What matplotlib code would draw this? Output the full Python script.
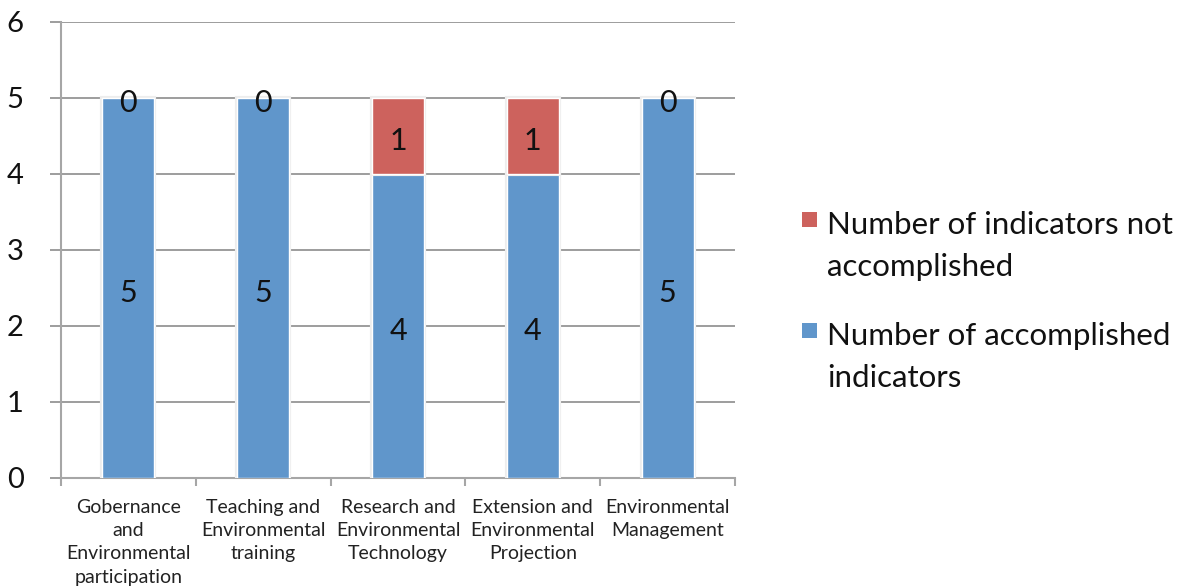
import matplotlib
matplotlib.use("Agg")
import matplotlib.pyplot as plt
import matplotlib.patheffects as pe
from matplotlib.patches import Rectangle
import numpy as np

plt.rcParams['font.family'] = ['Lato', 'DejaVu Sans']

categories = [
    "Gobernance\nand\nEnvironmental\nparticipation",
    "Teaching and\nEnvironmental\ntraining",
    "Research and\nEnvironmental\nTechnology",
    "Extension and\nEnvironmental\nProjection",
    "Environmental\nManagement",
]
accomplished = [5, 5, 4, 4, 5]
not_accomplished = [0, 0, 1, 1, 0]
series_labels = ["Number of indicators not\naccomplished",
                 "Number of accomplished\nindicators"]
y_ticks = [0, 1, 2, 3, 4, 5, 6]

blue = "#6096CB"
red = "#CD625D"
grid_col = "#8C8C8C"
axis_col = "#A6A6A6"
text_col = "#111111"

fig = plt.figure(figsize=(11.86, 5.87), dpi=100)
ax = fig.add_axes([61 / 1186, 1 - 478 / 587, (735 - 61) / 1186, (478 - 22) / 587])

x = np.arange(len(categories))
w = 0.385
glow = [pe.Stroke(linewidth=3, foreground="#EDEDED"), pe.Normal()]
b1 = ax.bar(x, accomplished, width=w, color=blue, edgecolor="white", linewidth=1.0, zorder=3)
b2 = ax.bar(x, not_accomplished, width=w, bottom=accomplished, color=red,
            edgecolor="white", linewidth=1.0, zorder=3)
for r in list(b1) + list(b2):
    if r.get_height() > 0:
        r.set_path_effects(glow)
    else:
        r.set_visible(False)

label_shift = -0.06
for rect, v in zip(b1, accomplished):
    ax.text(rect.get_x() + rect.get_width() / 2, v / 2 + label_shift, str(v),
            ha="center", va="center", fontsize=22, color=text_col, zorder=4)
for rect, base, v in zip(b2, accomplished, not_accomplished):
    ax.text(rect.get_x() + rect.get_width() / 2, base + v / 2 + label_shift, str(v),
            ha="center", va="center", fontsize=22, color=text_col, zorder=4)

ax.set_xlim(-0.5, len(categories) - 0.5)
ax.set_ylim(0, 6)
ax.set_yticks(y_ticks)
ax.set_yticklabels([str(t) for t in y_ticks], fontsize=21)
ax.tick_params(axis="y", length=8, color=grid_col, width=1.2, pad=19, labelcolor=text_col)
ax.yaxis.grid(True, color=grid_col, linewidth=1.2, zorder=0)

ax.set_xticks(x)
ax.set_xticklabels(categories, fontsize=14, linespacing=1.45, color="#222222")
ax.tick_params(axis="x", which="major", length=0, pad=15)
ax.set_xticks(np.arange(len(categories) + 1) - 0.5, minor=True)
ax.tick_params(axis="x", which="minor", length=6, color=axis_col, width=1.5)

for side in ("top", "right"):
    ax.spines[side].set_visible(False)
ax.spines["left"].set_color(axis_col)
ax.spines["left"].set_linewidth(1.5)
ax.spines["bottom"].set_color(axis_col)
ax.spines["bottom"].set_linewidth(1.5)

# legend drawn in figure pixels
H = 587.0
W = 1186.0
for col, label, sq_top in ((red, series_labels[0], 212), (blue, series_labels[1], 323)):
    fig.patches.append(Rectangle((802 / W, 1 - (sq_top + 15) / H), 15 / W, 15 / H,
                                 transform=fig.transFigure, facecolor=col, edgecolor="none"))
    fig.text(827 / W, 1 - (sq_top - 1) / H, label, fontsize=22.5, va="top", ha="left",
             linespacing=1.63, color=text_col)

fig.savefig("out.png", dpi=100)
